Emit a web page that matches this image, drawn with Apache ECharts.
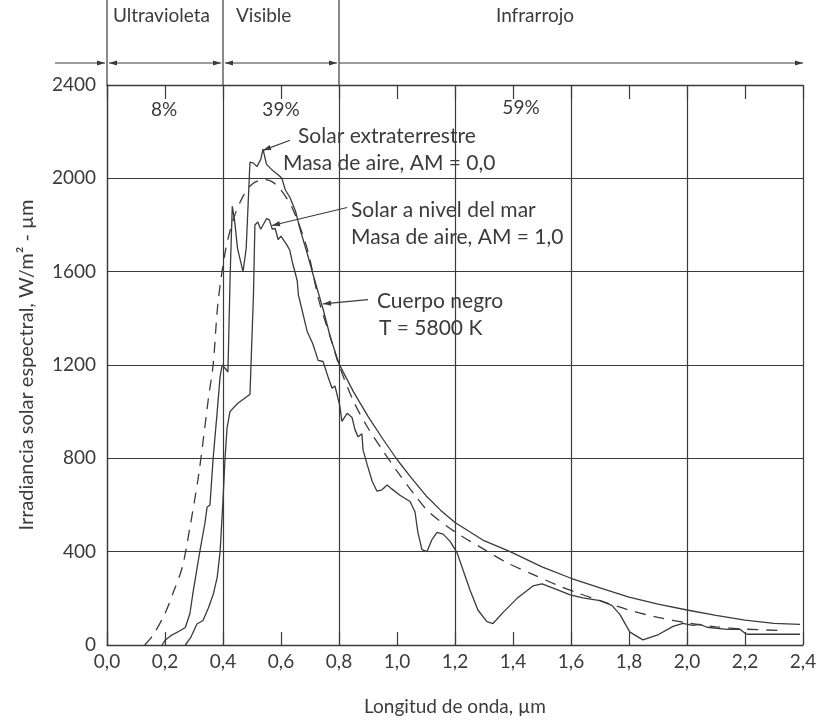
<!DOCTYPE html>
<html><head><meta charset="utf-8">
<script src="https://cdn.jsdelivr.net/npm/echarts@6/dist/echarts.min.js"></script>
<style>html,body{margin:0;padding:0;background:#fff}#c{width:820px;height:721px}</style>
</head><body><div id="c"></div>
<script>
// ---- data ----
const xTickLabels = ['0,0','0,2','0,4','0,6','0,8','1,0','1,2','1,4','1,6','1,8','2,0','2,2','2,4'];
const yTickValues = [0, 400, 800, 1200, 1600, 2000, 2400];

// Cuerpo negro T = 5800 K (dashed)
const bbWavelength = [0.13,0.16,0.2,0.23,0.26,0.286,0.314,0.33,0.35,0.366,0.383,0.41,0.44,0.47,0.5,0.54,0.57,0.6,0.64,0.69,0.73,0.77,0.8,0.85,0.9,0.95,1.0,1.06,1.11,1.2,1.3,1.38,1.47,1.55,1.63,1.7,1.8,1.9,2.0,2.1,2.2,2.33];
const bbIrradiance = [0,45,135,230,335,505,712,860,1060,1200,1470,1700,1840,1925,1975,1995,1985,1950,1870,1700,1480,1320,1200,1045,930,835,745,645,570,485,410,352,302,258,220,190,150,118,95,78,68,62];

// Solar extraterrestre, AM = 0,0
const am0Wavelength = [0.19,0.2,0.22,0.25,0.27,0.286,0.296,0.32,0.338,0.345,0.355,0.366,0.38,0.39,0.397,0.408,0.417,0.425,0.432,0.44,0.45,0.469,0.48,0.493,0.505,0.517,0.53,0.538,0.55,0.57,0.59,0.603,0.615,0.63,0.65,0.666,0.69,0.71,0.745,0.77,0.8,0.85,0.9,0.95,1.0,1.05,1.1,1.15,1.2,1.3,1.39,1.5,1.6,1.7,1.8,1.9,2.0,2.1,2.2,2.3,2.39];
const am0Irradiance = [0,20,40,60,75,135,220,400,525,590,600,800,1000,1150,1200,1185,1170,1600,1880,1820,1700,1600,1700,2070,2065,2050,2080,2125,2060,2035,2015,2000,1950,1920,1860,1780,1680,1590,1440,1320,1205,1085,980,885,795,715,640,578,525,447,400,335,286,245,205,175,150,127,107,93,88];

// Solar a nivel del mar, AM = 1,0
const am1Wavelength = [0.27,0.29,0.31,0.331,0.35,0.367,0.38,0.39,0.4,0.407,0.414,0.424,0.45,0.483,0.493,0.505,0.51,0.52,0.53,0.55,0.56,0.57,0.58,0.59,0.6,0.62,0.63,0.64,0.65,0.656,0.66,0.666,0.69,0.71,0.728,0.745,0.762,0.776,0.786,0.803,0.81,0.828,0.845,0.855,0.866,0.879,0.883,0.897,0.914,0.931,0.948,0.966,0.983,1.01,1.045,1.062,1.072,1.086,1.103,1.121,1.138,1.159,1.183,1.207,1.228,1.252,1.279,1.31,1.331,1.366,1.414,1.469,1.5,1.552,1.597,1.641,1.7,1.741,1.769,1.803,1.848,1.897,1.952,1.986,2.02,2.045,2.069,2.138,2.183,2.2,2.207,2.39];
const am1Irradiance = [0,35,90,105,160,220,290,400,620,800,930,1000,1035,1065,1075,1500,1800,1813,1782,1827,1822,1782,1785,1738,1752,1715,1693,1636,1590,1560,1500,1470,1345,1290,1220,1215,1150,1100,1110,1024,958,993,975,923,892,905,835,774,703,659,665,686,668,642,615,571,483,409,400,453,483,475,444,396,320,235,150,100,92,140,200,253,262,237,215,202,190,170,130,55,22,42,80,93,84,88,76,67,67,50,46,46];

// spectral regions (boundaries in µm) and their labels
const regionBounds = [0.0, 0.4, 0.8, 2.4];
const regionNames = ['Ultravioleta', 'Visible', 'Infrarrojo'];
const regionShares = ['8%', '39%', '59%'];

// ---- chart ----
const zip = (xs, ys) => xs.map((x, i) => [x, ys[i]]);
const INK = '#3b3b3b';
const FONT = 'Lato, "Open Sans", sans-serif';
const chart = echarts.init(document.getElementById('c'), null, {renderer: 'canvas'});

const baseX = {type: 'value', min: 0, max: 2.4, interval: 0.2};
chart.setOption({
  animation: false,
  backgroundColor: '#ffffff',
  grid: {left: 107, right: 17, top: 85, bottom: 75},
  xAxis: [
    Object.assign({}, baseX, {
      position: 'bottom',
      axisLine: {show: true, lineStyle: {color: INK, width: 1.3}},
      axisTick: {show: true, inside: true, length: 13, lineStyle: {color: INK, width: 1.2}},
      axisLabel: {formatter: v => xTickLabels[Math.round(v / 0.2)], fontSize: 19, color: INK, fontFamily: FONT, margin: 7},
      splitLine: {show: false},
      name: 'Longitud de onda, µm', nameLocation: 'middle', nameGap: 52,
      nameTextStyle: {fontSize: 19, color: INK, fontFamily: FONT}
    }),
    Object.assign({}, baseX, {
      position: 'top',
      axisLine: {show: true, lineStyle: {color: INK, width: 1.3}},
      axisTick: {show: true, inside: true, length: 14, lineStyle: {color: INK, width: 1.2}},
      axisLabel: {show: false}, splitLine: {show: false}
    }),
    Object.assign({}, baseX, {
      interval: 0.4, position: 'bottom',
      axisLine: {show: false}, axisTick: {show: false}, axisLabel: {show: false},
      splitLine: {show: true, lineStyle: {color: INK, width: 1.2}}
    })
  ],
  yAxis: {
    type: 'value', min: 0, max: 2400, interval: 400,
    axisLine: {show: true, lineStyle: {color: INK, width: 1.3}},
    axisTick: {show: false},
    axisLabel: {fontSize: 19, color: INK, fontFamily: FONT, margin: 11,
      formatter: v => yTickValues.indexOf(v) >= 0 ? String(v) : ''},
    splitLine: {show: true, lineStyle: {color: INK, width: 1.2}},
    name: 'Irradiancia solar espectral, W/m² - µm', nameLocation: 'middle', nameGap: 70, nameRotate: 90,
    nameTextStyle: {fontSize: 20, color: INK, fontFamily: FONT}
  },
  series: [
    {name: 'Cuerpo negro', type: 'line', showSymbol: false, smooth: 0.3,
      data: zip(bbWavelength, bbIrradiance),
      lineStyle: {color: INK, width: 1.3, type: [11, 8]}},
    {name: 'AM0', type: 'line', showSymbol: false, smooth: false,
      data: zip(am0Wavelength, am0Irradiance),
      lineStyle: {color: INK, width: 1.3}},
    {name: 'AM1', type: 'line', showSymbol: false, smooth: false,
      data: zip(am1Wavelength, am1Irradiance),
      lineStyle: {color: INK, width: 1.3}}
  ]
});

// ---- annotations ----
const px = (x, y) => chart.convertToPixel({xAxisIndex: 0, yAxisIndex: 0}, [x, y]);
function head(x1, y1, x2, y2, len, w) {
  const a = Math.atan2(y2 - y1, x2 - x1);
  const bx = x2 - len * Math.cos(a), by = y2 - len * Math.sin(a);
  const nx = -Math.sin(a) * w, ny = Math.cos(a) * w;
  return {type: 'polygon', shape: {points: [[x2, y2], [bx + nx, by + ny], [bx - nx, by - ny]]}, style: {fill: INK}};
}
function arrow(p1, p2, heads) {
  const ch = [{type: 'line', shape: {x1: p1[0], y1: p1[1], x2: p2[0], y2: p2[1]}, style: {stroke: INK, lineWidth: 1.2}}];
  if (heads.end) ch.push(head(p1[0], p1[1], p2[0], p2[1], 8, 2.6));
  if (heads.start) ch.push(head(p2[0], p2[1], p1[0], p1[1], 8, 2.6));
  return {type: 'group', children: ch};
}
function text(t, x, y, align, size) {
  return {type: 'text', x: x, y: y, style: {text: t, fill: INK, font: (size || 21) + 'px ' + FONT, align: align || 'left', verticalAlign: 'middle'}};
}

const g = [];
const topY = px(0, 2400)[1];
const bx = regionBounds.map(b => px(b, 2400)[0]);
const arrowY = 63;
// separators of the regions
for (let i = 0; i < 3; i++) {
  g.push({type: 'line', shape: {x1: bx[i], y1: 0, x2: bx[i], y2: topY}, style: {stroke: INK, lineWidth: 1.2}});
}
g.push(arrow([55, arrowY], [bx[0] - 2, arrowY], {end: true}));
g.push(arrow([bx[0] + 2, arrowY], [bx[1] - 2, arrowY], {start: true, end: true}));
g.push(arrow([bx[1] + 2, arrowY], [bx[2] - 2, arrowY], {start: true, end: true}));
g.push(arrow([bx[2], arrowY], [bx[3], arrowY], {end: true}));
g.push(text(regionNames[0], 113, 16, 'left', 19));
g.push(text(regionNames[1], 236, 16, 'left', 19));
g.push(text(regionNames[2], 535, 16, 'center', 19));
g.push(text(regionShares[0], 164, 110, 'center', 19));
g.push(text(regionShares[1], 281, 110, 'center', 19));
g.push(text(regionShares[2], 521, 108, 'center', 19));

// curve labels
g.push(text('Solar extraterrestre', 298, 136, 'left'));
g.push(text('Masa de aire, AM = 0,0', 283, 163, 'left'));
g.push(text('Solar a nivel del mar', 351, 210, 'left'));
g.push(text('Masa de aire, AM = 1,0', 351, 237, 'left'));
g.push(text('Cuerpo negro', 377, 301, 'left'));
g.push(text('T = 5800 K', 379, 328, 'left'));
g.push(arrow(px(0.631, 2163), px(0.538, 2120), {end: true}));
g.push(arrow(px(0.828, 1875), px(0.569, 1798), {end: true}));
g.push(arrow(px(0.90, 1480), px(0.745, 1462), {end: true}));

chart.setOption({graphic: g});
</script></body></html>
